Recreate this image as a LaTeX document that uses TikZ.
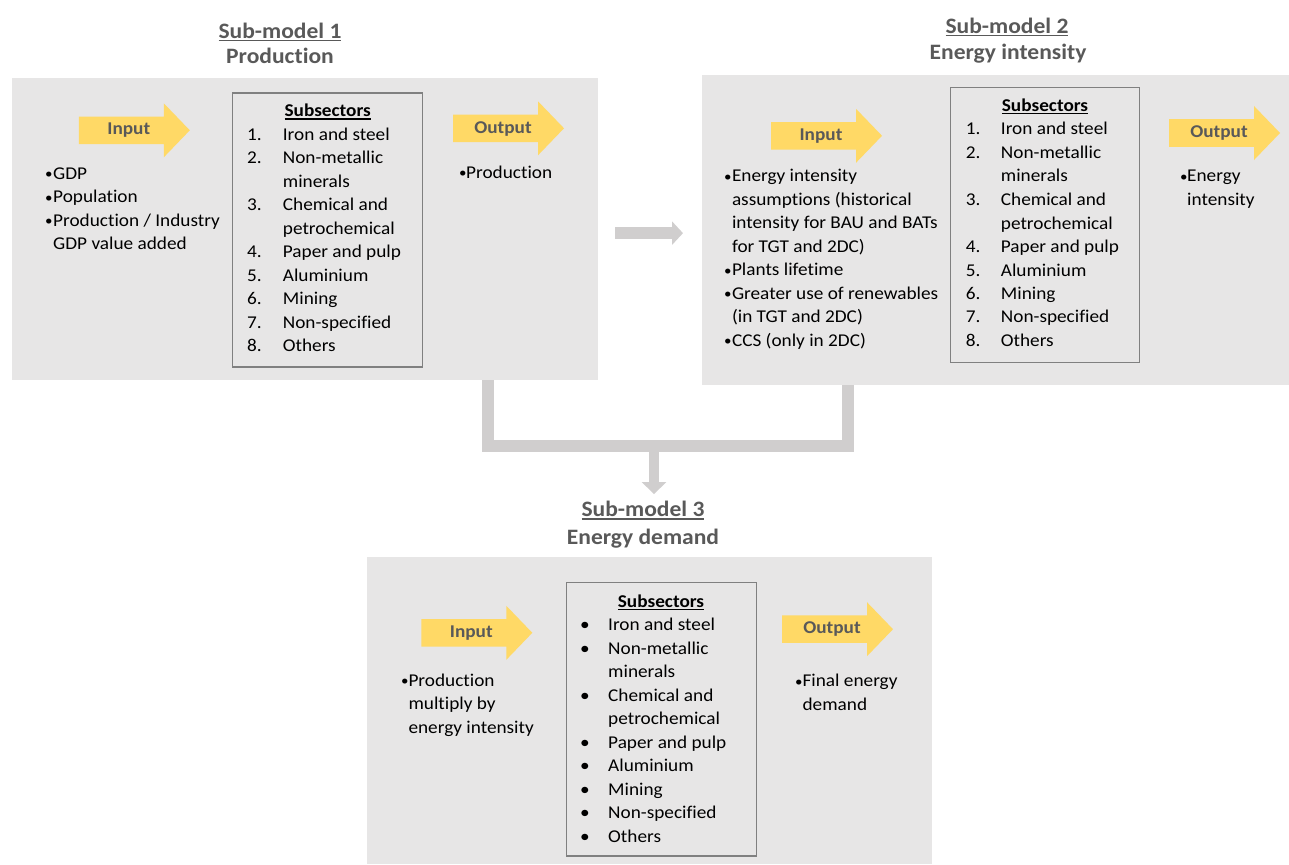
\documentclass[tikz,border=0pt]{standalone}
\usepackage{fontspec}
\setmainfont{Carlito}[FakeStretch=1.07, Ligatures=NoCommon]
\usetikzlibrary{arrows.meta}

\definecolor{panelgray}{HTML}{E7E6E6}
\definecolor{conngray}{HTML}{D0CECE}
\definecolor{arrowfill}{HTML}{FFD966}
\definecolor{titlegray}{HTML}{595959}
\definecolor{boxline}{HTML}{808080}

% text with a solid rule underneath
\newcommand{\ulined}[2][-3pt]{\setbox0\hbox{#2}\rlap{\rule[#1]{\wd0}{1.4pt}}\box0}
% small bullet used in the input and output lists
\newcommand{\sbul}{\raisebox{0.5pt}{\fontsize{14}{14}\selectfont •}}

\begin{document}
\begin{tikzpicture}[x=1pt,y=-1pt,
  panel/.style={fill=panelgray, inner sep=0pt, outer sep=0pt, anchor=north west},
  subbox/.style={draw=boxline, line width=1.2pt, inner sep=0pt, outer sep=0pt, anchor=north west},
  body/.style={font=\fontsize{18}{23.5}\selectfont, inner sep=0pt, text=black, anchor=base west},
  heading/.style={font=\bfseries\fontsize{22}{26}\selectfont, text=titlegray, inner sep=0pt, anchor=base},
  subhead/.style={font=\bfseries\fontsize{18}{23.5}\selectfont, text=black, inner sep=0pt, anchor=base},
  arrowtext/.style={font=\bfseries\fontsize{18}{22}\selectfont, text=titlegray, inner sep=0pt, anchor=base},
  gconn/.style={draw=conngray, line width=12pt},
  yarrow/.pic={
    \fill[arrowfill] (0,-13.75) -- (85,-13.75) -- (85,-27) -- (111,0)
                     -- (85,27) -- (85,13.75) -- (0,13.75) -- cycle;
    \node[arrowtext] (-label) at (50,4.7) {#1};
  }
]
\useasboundingbox (0,0) rectangle (1289,864);

% ---------- panels ----------
\node[panel, minimum width=585.7pt, minimum height=301.7pt] (p1) at (12.3,78.3) {};
\node[panel, minimum width=587pt, minimum height=310pt] (p2) at (702,75) {};
\node[panel, minimum width=565pt, minimum height=306.7pt] (p3) at (367.4,557.3) {};

% ---------- headings ----------
\node[heading] (t1a) at (280,38.3) {\ulined{Sub-model 1}};
\node[heading] (t1b) at (280,64) {Production};
\node[heading] (t2a) at (1007,33.3) {\ulined{Sub-model 2}};
\node[heading] (t2b) at (1008,60) {Energy intensity};
\node[heading] (t3a) at (643,516.7) {\ulined{Sub-model 3}};
\node[heading] (t3b) at (643,544) {Energy demand};

% ---------- sub-model 1 ----------
\pic (a1in) at (78.8,130.3) {yarrow=Input};
\pic (a1out) at (453,128.3) {yarrow=Output};
\node[body] (in1) at (45,179) {\begin{tabular}[t]{@{}p{8pt}@{}l@{}}
  \sbul&GDP\\ \sbul&Population\\ \sbul&Production / Industry\\ &GDP value added\end{tabular}};
\node[subbox, minimum width=190pt, minimum height=274pt] (b1) at (232.7,93) {};
\node[subhead] (h1) at (327.7,117) {\ulined[-2.8pt]{Subsectors}};
\node[body] (l1) at (247,140) {\begin{tabular}[t]{@{}p{35.7pt}@{}l@{}}
  1.&Iron and steel\\ 2.&Non-metallic\\ &minerals\\ 3.&Chemical and\\ &petrochemical\\
  4.&Paper and pulp\\ 5.&Aluminium\\ 6.&Mining\\ 7.&Non-specified\\ 8.&Others\end{tabular}};
\node[body] (o1) at (459,178) {\begin{tabular}[t]{@{}p{7pt}@{}l@{}}\sbul&Production\end{tabular}};

% ---------- sub-model 2 ----------
\pic (a2in) at (771,135.8) {yarrow=Input};
\pic (a2out) at (1169,133) {yarrow=Output};
\node[body] (in2) at (724,181.7) {\begin{tabular}[t]{@{}p{7.8pt}@{}l@{}}
  \sbul&Energy intensity\\ &assumptions (historical\\ &intensity for BAU and BATs\\ &for TGT and 2DC)\\
  \sbul&Plants lifetime\\ \sbul&Greater use of renewables\\ &(in TGT and 2DC)\\ \sbul&CCS (only in 2DC)\end{tabular}};
\node[subbox, minimum width=189pt, minimum height=275.4pt] (b2) at (950.6,87.3) {};
\node[subhead] (h2) at (1045,111.7) {\ulined[-2.8pt]{Subsectors}};
\node[body] (l2) at (965.6,135) {\begin{tabular}[t]{@{}p{35.1pt}@{}l@{}}
  1.&Iron and steel\\ 2.&Non-metallic\\ &minerals\\ 3.&Chemical and\\ &petrochemical\\
  4.&Paper and pulp\\ 5.&Aluminium\\ 6.&Mining\\ 7.&Non-specified\\ 8.&Others\end{tabular}};
\node[body] (o2) at (1180,181.7) {\begin{tabular}[t]{@{}p{7pt}@{}l@{}}\sbul&Energy\\ &intensity\end{tabular}};

% ---------- sub-model 3 ----------
\pic (a3in) at (421.3,632.8) {yarrow=Input};
\pic (a3out) at (782,629.2) {yarrow=Output};
\node[body] (in3) at (401,686) {\begin{tabular}[t]{@{}p{7.3pt}@{}l@{}}
  \sbul&Production\\ &multiply by\\ &energy intensity\end{tabular}};
\node[subbox, minimum width=190.4pt, minimum height=273.7pt] (b3) at (566.3,582.3) {};
\node[subhead] (h3) at (661,607.3) {\ulined[-2.8pt]{Subsectors}};
\node[body] (l3) at (580,630.7) {\begin{tabular}[t]{@{}p{28pt}@{}l@{}}
  •&Iron and steel\\ •&Non-metallic\\ &minerals\\ •&Chemical and\\ &petrochemical\\
  •&Paper and pulp\\ •&Aluminium\\ •&Mining\\ •&Non-specified\\ •&Others\end{tabular}};
\node[body] (o3) at (795,686.7) {\begin{tabular}[t]{@{}p{7.4pt}@{}l@{}}\sbul&Final energy\\ &demand\end{tabular}};

% ---------- connectors ----------
\coordinate (ha) at ([yshift=-4pt]p1.east);
\draw[gconn, shorten <=17pt, shorten >=19pt, -{Triangle[width=23pt,length=11pt]}] (ha) -- (ha -| p2.west);
\coordinate (join) at (654,446);
\draw[gconn] ([xshift=182.35pt]p1.south) |- (join) -| ([xshift=-148pt]p2.south);
\draw[gconn, line width=10.5pt, shorten >=7pt, -{Triangle[width=24pt,length=12pt]}] (join) -- (join |- t3a.north);
\end{tikzpicture}
\end{document}
